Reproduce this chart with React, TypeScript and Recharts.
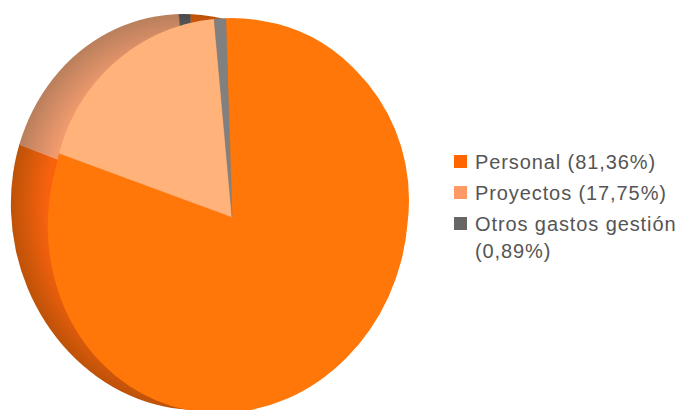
import React from 'react';
import { PieChart, Pie, Sector, Legend } from 'recharts';

const categories = ['Personal', 'Proyectos', 'Otros gastos gestión'];
const shares = [81.36, 17.75, 0.89];

const faceColors = ['#FF7609', '#FFB27A', '#808080'];
const legendColors = ['#FF6600', '#FF9966', '#666666'];

const chartData = categories.map((name, i) => ({ name, value: shares[i] }));

// outlines of the tilted front disc and of the extruded back disc
const faceEllipse = 'matrix(1 0 -0.05 1.095 228 216)';
const faceTopBulge = 'matrix(0.989 0 0 1.011 231 200)';
const backEllipse = 'matrix(1 0 0.04 1.1 191 212)';

const sliceShape = (apexX: number, apexY: number, stretch: number, clipId: string, fills: string[]) => (props: any) => (
  <g clipPath={`url(#${clipId})`}>
    <g transform={`translate(${apexX} ${apexY}) scale(1 ${stretch}) translate(${-apexX} ${-apexY})`}>
      <Sector {...props} fill={fills[props.index]} stroke={fills[props.index]} strokeWidth={0.5} />
    </g>
  </g>
);

const LegendBox = () => (
  <div style={{ fontFamily: '"Liberation Sans", Arial, sans-serif', fontSize: 20, letterSpacing: 0.9, color: '#555555' }}>
    {categories.map((name, i) => (
      <div key={name} style={{ position: 'relative', paddingLeft: 21, marginBottom: 4, lineHeight: '27px' }}>
        <span style={{ position: 'absolute', left: 0, top: 6, width: 13, height: 13, background: legendColors[i] }} />
        {name} ({String(shares[i]).replace('.', ',')}%)
      </div>
    ))}
  </div>
);

export default function App() {
  return (
    <div style={{ position: 'absolute', left: 0, top: 0, width: 682, height: 410, overflow: 'hidden', background: '#fff' }}>
      <PieChart width={682} height={410} margin={{ top: 0, right: 0, bottom: 0, left: 0 }}>
        <defs>
          <clipPath id="faceClip">
            <circle cx={0} cy={0} r={180} transform={faceEllipse} />
            <circle cx={0} cy={0} r={180} transform={faceTopBulge} />
          </clipPath>
          <clipPath id="backClip">
            <circle cx={0} cy={0} r={180} transform={backEllipse} />
          </clipPath>
          <radialGradient id="sideOrange" gradientUnits="userSpaceOnUse" cx={0} cy={0} r={180} gradientTransform={backEllipse}>
            <stop offset="0.8" stopColor="#F8620E" />
            <stop offset="1" stopColor="#BD5208" />
          </radialGradient>
          <radialGradient id="sidePeach" gradientUnits="userSpaceOnUse" cx={0} cy={0} r={180} gradientTransform={backEllipse}>
            <stop offset="0.8" stopColor="#F09A6E" />
            <stop offset="1" stopColor="#B97F5C" />
          </radialGradient>
          <radialGradient id="sideGrey" gradientUnits="userSpaceOnUse" cx={0} cy={0} r={180} gradientTransform={backEllipse}>
            <stop offset="0.8" stopColor="#707070" />
            <stop offset="1" stopColor="#4A4A4A" />
          </radialGradient>
        </defs>
        <Pie
          data={chartData}
          dataKey="value"
          cx={196}
          cy={213}
          outerRadius={260}
          startAngle={91.7}
          endAngle={-268.3}
          legendType="none"
          isAnimationActive={false}
          shape={sliceShape(196, 213, 1, 'backClip', ['url(#sideOrange)', 'url(#sidePeach)', 'url(#sideGrey)'])}
        />
        <Pie
          data={chartData}
          dataKey="value"
          cx={232}
          cy={217}
          outerRadius={260}
          startAngle={91.7}
          endAngle={-268.3}
          isAnimationActive={false}
          shape={sliceShape(232, 217, 0.95, 'faceClip', faceColors)}
        />
        <Legend content={<LegendBox />} layout="vertical" wrapperStyle={{ left: 454, top: 149, width: 228 }} />
      </PieChart>
    </div>
  );
}
